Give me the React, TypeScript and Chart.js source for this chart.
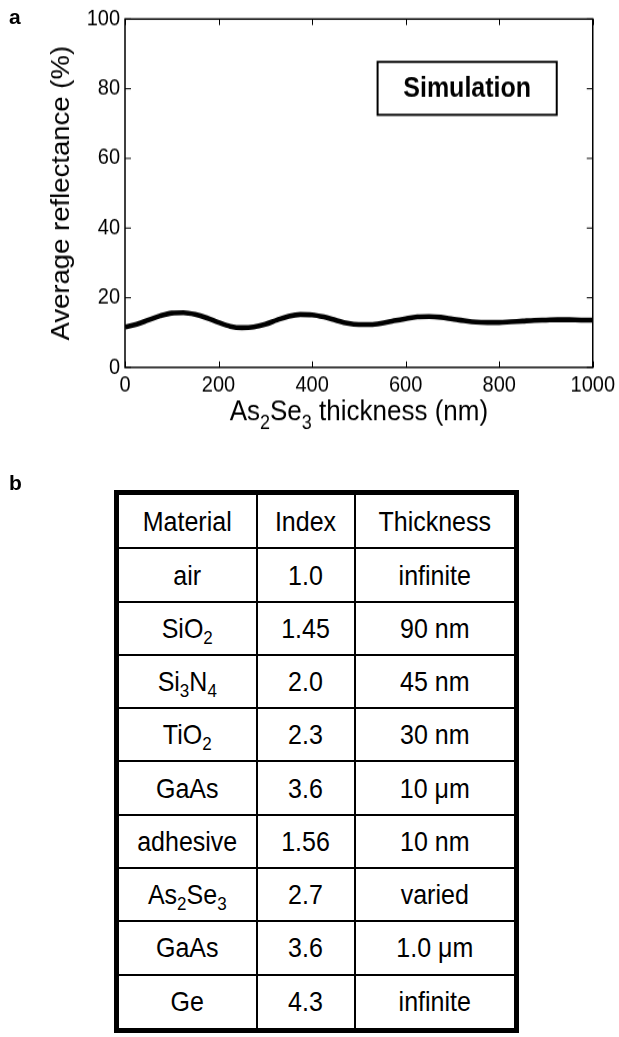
import React, { useEffect, useRef } from "react";
import { Chart, registerables } from "chart.js";

Chart.register(...registerables);

// Average reflectance (%) versus As2Se3 thickness (nm)
const thickness = [
  0, 25, 50, 75, 100, 125, 150, 175, 200, 225, 250, 275, 300, 325, 350, 375, 400,
  425, 450, 475, 500, 525, 550, 575, 600, 625, 650, 675, 700, 725, 750, 775, 800,
  825, 850, 875, 900, 925, 950, 975, 1000,
];
const reflectance = [
  11.6, 12.4, 13.6, 14.8, 15.6, 15.7, 15.2, 14.2, 12.9, 11.8, 11.4, 11.6, 12.4, 13.6,
  14.7, 15.2, 15.1, 14.5, 13.6, 12.7, 12.3, 12.3, 12.7, 13.4, 14.0, 14.5, 14.6, 14.4,
  13.9, 13.4, 13.0, 12.9, 12.9, 13.1, 13.3, 13.5, 13.6, 13.7, 13.7, 13.6, 13.6,
];

const xTickStep = 200;
const yTickStep = 20;
const yAxisTitle = "Average reflectance (%)";
const boxLabel = "Simulation";

// Layer stack table: material (with subscript parts), index, thickness
type Part = [string, boolean];
const materials: Part[][] = [
  [["air", false]],
  [["SiO", false], ["2", true]],
  [["Si", false], ["3", true], ["N", false], ["4", true]],
  [["TiO", false], ["2", true]],
  [["GaAs", false]],
  [["adhesive", false]],
  [["As", false], ["2", true], ["Se", false], ["3", true]],
  [["GaAs", false]],
  [["Ge", false]],
];
const indices = ["1.0", "1.45", "2.0", "2.3", "3.6", "1.56", "2.7", "3.6", "4.3"];
const layerThickness = [
  "infinite", "90 nm", "45 nm", "30 nm", "10 μm", "10 nm", "varied", "1.0 μm", "infinite",
];
const headers = ["Material", "Index", "Thickness"];

const FONT = "'Liberation Sans', Arial, Helvetica, sans-serif";

// canvas is drawn at this height and shown slightly taller (text is tall and narrow)
const CANVAS_W = 619;
const CANVAS_H = 400;
const SHOWN_H = 440;
const STRETCH = SHOWN_H / CANVAS_H;

const framePlugin = {
  id: "frame",
  afterDatasetsDraw(chart: any) {
    const { ctx, chartArea: a, scales } = chart;
    const xs = scales.x;
    const ys = scales.y;
    ctx.save();
    ctx.strokeStyle = "#000";
    // tick marks pointing inward on all four sides
    ctx.lineWidth = 1;
    const len = 6;
    ctx.beginPath();
    for (let v = xs.min; v <= xs.max; v += xTickStep) {
      const px = Math.round(xs.getPixelForValue(v)) + 0.5;
      ctx.moveTo(px, a.bottom);
      ctx.lineTo(px, a.bottom - len / STRETCH);
      ctx.moveTo(px, a.top);
      ctx.lineTo(px, a.top + len / STRETCH);
    }
    for (let v = ys.min; v <= ys.max; v += yTickStep) {
      const py = ys.getPixelForValue(v);
      ctx.moveTo(a.left, py);
      ctx.lineTo(a.left + len, py);
      ctx.moveTo(a.right, py);
      ctx.lineTo(a.right - len, py);
    }
    ctx.stroke();
    // axes box
    ctx.lineWidth = 1.5;
    ctx.strokeRect(a.left, a.top, a.right - a.left, a.bottom - a.top);

    // label box
    const bx0 = xs.getPixelForValue(540);
    const bx1 = xs.getPixelForValue(923);
    const by0 = ys.getPixelForValue(87.7);
    const by1 = ys.getPixelForValue(72.5);
    ctx.lineWidth = 2;
    ctx.strokeRect(bx0, by0, bx1 - bx0, by1 - by0);
    ctx.fillStyle = "#000";
    ctx.font = `bold 25px ${FONT}`;
    ctx.textAlign = "center";
    ctx.textBaseline = "middle";
    ctx.fillText(boxLabel, (bx0 + bx1) / 2, (by0 + by1) / 2 + 1);

    // x axis title with subscripts
    const parts: Part[] = [
      ["As", false], ["2", true], ["Se", false], ["3", true], [" thickness (nm)", false],
    ];
    const big = `26px ${FONT}`;
    const small = `18px ${FONT}`;
    let total = 0;
    for (const [t, s] of parts) {
      ctx.font = s ? small : big;
      total += ctx.measureText(t).width;
    }
    let x = (a.left + a.right) / 2 - total / 2;
    const base = a.bottom + 48;
    ctx.textAlign = "left";
    ctx.textBaseline = "alphabetic";
    for (const [t, s] of parts) {
      ctx.font = s ? small : big;
      ctx.fillText(t, x, s ? base + 8 : base);
      x += ctx.measureText(t).width;
    }
    ctx.restore();
  },
};

function ReflectanceChart() {
  const ref = useRef<HTMLCanvasElement | null>(null);
  useEffect(() => {
    if (!ref.current) return;
    Chart.defaults.font.family = FONT;
    const chart = new Chart(ref.current, {
      type: "line",
      data: {
        datasets: [
          {
            data: thickness.map((t, i) => ({ x: t, y: reflectance[i] })),
            borderColor: "#000",
            borderWidth: 4.6,
            pointRadius: 0,
            tension: 0.4,
            cubicInterpolationMode: "monotone",
            fill: false,
          },
        ],
      },
      options: {
        animation: false,
        responsive: false,
        maintainAspectRatio: false,
        layout: { padding: { left: 0, top: 17.3, right: 26, bottom: 0 } },
        plugins: { legend: { display: false }, tooltip: { enabled: false } },
        scales: {
          x: {
            type: "linear",
            min: 0,
            max: 1000,
            ticks: {
              stepSize: xTickStep,
              color: "#000",
              font: { size: 20 },
              padding: 4,
              maxRotation: 0,
              callback: (v: any) => String(v),
            },
            grid: { display: false, drawTicks: false },
            border: { display: false },
            afterFit: (s: any) => {
              s.height = 66;
            },
          },
          y: {
            min: 0,
            max: 100,
            ticks: {
              stepSize: yTickStep,
              color: "#000",
              font: { size: 20 },
              padding: 5,
              callback: (v: any) => String(v),
            },
            grid: { display: false, drawTicks: false },
            border: { display: false },
            title: {
              display: true,
              text: yAxisTitle,
              color: "#000",
              font: { size: 25 },
              padding: { top: 47, bottom: 0 },
            },
            afterFit: (s: any) => {
              s.width = 125;
            },
          },
        },
      },
      plugins: [framePlugin],
    });
    return () => chart.destroy();
  }, []);
  return (
    <canvas
      ref={ref}
      width={CANVAS_W}
      height={CANVAS_H}
      style={{ position: "absolute", left: 0, top: 0, width: CANVAS_W, height: SHOWN_H }}
    />
  );
}

function Cell({ children }: { children: React.ReactNode }) {
  return (
    <td
      style={{
        border: "2px solid #000",
        textAlign: "center",
        verticalAlign: "middle",
        padding: 0,
      }}
    >
      <span style={{ display: "inline-block", transform: "scaleY(1.1)" }}>{children}</span>
    </td>
  );
}

function renderParts(parts: Part[]) {
  return parts.map(([t, s], i) =>
    s ? (
      <sub key={i} style={{ fontSize: 17, verticalAlign: "-6px", lineHeight: 0 }}>
        {t}
      </sub>
    ) : (
      <span key={i}>{t}</span>
    )
  );
}

function LayerTable() {
  return (
    <table
      style={{
        position: "absolute",
        left: 114,
        top: 490,
        width: 400,
        height: 543,
        borderCollapse: "collapse",
        border: "5px solid #000",
        fontFamily: FONT,
        fontSize: 25,
        color: "#000",
        tableLayout: "fixed",
      }}
    >
      <colgroup>
        <col style={{ width: 140 }} />
        <col style={{ width: 98 }} />
        <col style={{ width: 162 }} />
      </colgroup>
      <tbody>
        <tr>
          {headers.map((h) => (
            <Cell key={h}>{h}</Cell>
          ))}
        </tr>
        {materials.map((m, i) => (
          <tr key={i}>
            <Cell>{renderParts(m)}</Cell>
            <Cell>{indices[i]}</Cell>
            <Cell>{layerThickness[i]}</Cell>
          </tr>
        ))}
      </tbody>
    </table>
  );
}

export default function App() {
  const letter: React.CSSProperties = {
    position: "absolute",
    fontFamily: FONT,
    fontWeight: "bold",
    fontSize: 21,
    color: "#000",
    lineHeight: 1,
  };
  return (
    <div
      style={{
        position: "absolute",
        left: 0,
        top: 0,
        width: 619,
        height: 1037,
        background: "#fff",
        overflow: "hidden",
      }}
    >
      <ReflectanceChart />
      <div style={{ ...letter, left: 9, top: 6 }}>a</div>
      <div style={{ ...letter, left: 9, top: 472 }}>b</div>
      <LayerTable />
    </div>
  );
}
